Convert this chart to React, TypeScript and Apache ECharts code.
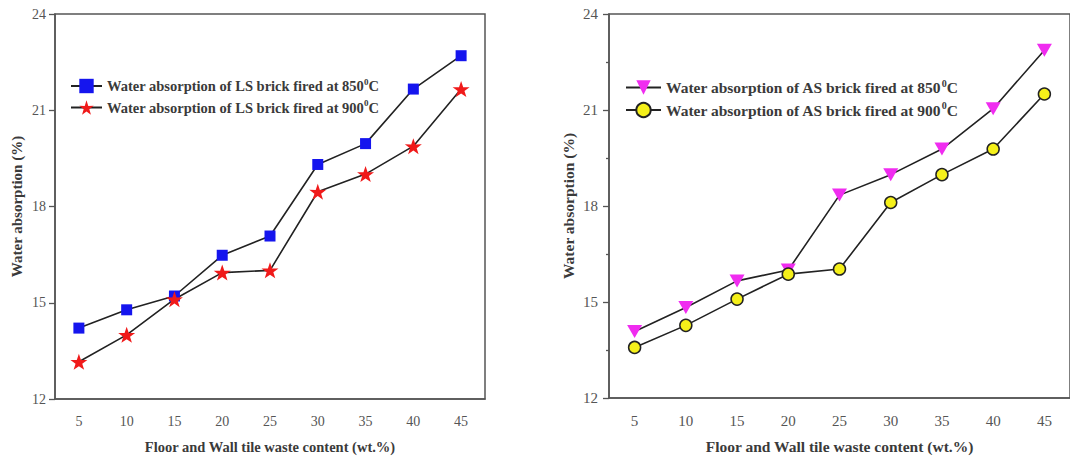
import React, { useEffect, useRef } from "react";
import * as echarts from "echarts";

const xLabels = ["5", "10", "15", "20", "25", "30", "35", "40", "45"];
const lsBrick850 = [14.21, 14.78, 15.21, 16.48, 17.08, 19.31, 19.96, 21.66, 22.7];
const lsBrick900 = [13.16, 14.0, 15.11, 15.94, 16.01, 18.46, 19.01, 19.88, 21.66];
const asBrick850 = [14.08, 14.83, 15.66, 16.0, 18.34, 18.98, 19.78, 21.04, 22.87];
const asBrick900 = [13.58, 14.27, 15.09, 15.87, 16.03, 18.11, 18.98, 19.78, 21.5];

const names = {
  ls850: "Water absorption of LS brick fired at 850°C",
  ls900: "Water absorption of LS brick fired at 900°C",
  as850: "Water absorption of AS brick fired at 850°C",
  as900: "Water absorption of AS brick fired at 900°C",
};

const yAxisName = "Water absorption (%)";
const xAxisName = "Floor and Wall tile waste content (wt.%)";

const FONT = "'Liberation Serif', 'Times New Roman', serif";
const STAR =
  "path://M50,0 L61.8,35.1 L97.6,34.5 L68.8,56.7 L79.4,90.5 L50,70 L20.6,90.5 L31.2,56.7 L2.4,34.5 L38.2,35.1 Z";

function legendRich(size: number) {
  return {
    t: { fontFamily: FONT, fontWeight: "bold", fontSize: size, color: "#3a3a3a" },
    sup: {
      fontFamily: FONT,
      fontWeight: "bold",
      fontSize: Math.round(size * 0.62),
      color: "#3a3a3a",
      padding: [0, 0, Math.round(size * 0.6), 0],
    },
  };
}

function legendFormatter(name: string) {
  const i = name.indexOf("°C");
  return "{t|" + name.slice(0, i) + "}{sup|0}{t|C}";
}

function makeXAxis(gridIndex: number, size: number, nameSize: number, gap: number, margin: number) {
  return {
    type: "category",
    gridIndex,
    data: xLabels,
    boundaryGap: true,
    name: xAxisName,
    nameLocation: "middle",
    nameGap: gap,
    nameTextStyle: { fontFamily: FONT, fontWeight: "bold", fontSize: nameSize, color: "#3a3a3a" },
    axisLine: { lineStyle: { color: "#555", width: 1.5 } },
    axisTick: { alignWithLabel: true, length: 6, lineStyle: { color: "#555", width: 1.3 } },
    axisLabel: { fontFamily: FONT, fontSize: size, color: "#555", margin },
    splitLine: { show: false },
  };
}

function makeYAxis(gridIndex: number, size: number, nameSize: number, gap: number, margin: number, minor: boolean) {
  return {
    type: "value",
    gridIndex,
    min: 12,
    max: 24,
    interval: 3,
    name: yAxisName,
    nameLocation: "middle",
    nameGap: gap,
    nameTextStyle: { fontFamily: FONT, fontWeight: "bold", fontSize: nameSize, color: "#3a3a3a" },
    axisLine: { show: true, lineStyle: { color: "#555", width: 1.5 } },
    axisTick: { show: true, length: 6, lineStyle: { color: "#555", width: 1.3 } },
    minorTick: { show: minor, splitNumber: 2, length: 3, lineStyle: { color: "#555", width: 1.3 } },
    axisLabel: { fontFamily: FONT, fontSize: size, color: "#555", margin },
    splitLine: { show: false },
    minorSplitLine: { show: false },
  };
}

const lineStyle = { color: "#222", width: 1.6 };

export default function App() {
  const ref = useRef<HTMLDivElement>(null);
  useEffect(() => {
    if (!ref.current) return;
    const chart = echarts.init(ref.current, null, { renderer: "svg" });
    chart.setOption({
      animation: false,
      backgroundColor: "#fff",
      grid: [
        { left: 55, top: 14, width: 430, height: 386, show: true, borderColor: "#555", borderWidth: 1.5, backgroundColor: "transparent" },
        { left: 609, top: 14, width: 465, height: 387.5, show: true, borderColor: "#555", borderWidth: 1.5, backgroundColor: "transparent" },
      ],
      legend: [
        {
          orient: "vertical",
          left: 70,
          top: 77,
          padding: 0,
          itemWidth: 31,
          itemHeight: 18,
          itemGap: 5,
          data: [names.ls850, names.ls900],
          formatter: legendFormatter,
          textStyle: { rich: legendRich(14.5) },
        },
        {
          orient: "vertical",
          left: 625,
          top: 78,
          padding: 0,
          itemWidth: 35,
          itemHeight: 18,
          itemGap: 5,
          data: [names.as850, names.as900],
          formatter: legendFormatter,
          textStyle: { rich: legendRich(15.5) },
        },
      ],
      xAxis: [makeXAxis(0, 14, 14.5, 40, 15), makeXAxis(1, 15, 15.5, 40, 15)],
      yAxis: [makeYAxis(0, 14, 15, 31, 9, false), makeYAxis(1, 15, 15.5, 33, 11, true)],
      series: [
        {
          name: names.ls850,
          type: "line",
          xAxisIndex: 0,
          yAxisIndex: 0,
          data: lsBrick850,
          symbol: "rect",
          symbolSize: 11,
          itemStyle: { color: "#1515ee", borderColor: "#1515ee", borderWidth: 0 },
          lineStyle,
        },
        {
          name: names.ls900,
          type: "line",
          xAxisIndex: 0,
          yAxisIndex: 0,
          data: lsBrick900,
          symbol: STAR,
          symbolSize: [17, 16],
          itemStyle: { color: "#f01a1a", borderWidth: 0 },
          lineStyle,
        },
        {
          name: names.as850,
          type: "line",
          xAxisIndex: 1,
          yAxisIndex: 1,
          data: asBrick850,
          symbol: "triangle",
          symbolRotate: 180,
          symbolSize: [15, 13],
          itemStyle: { color: "#f02cf0", borderWidth: 0 },
          lineStyle,
        },
        {
          name: names.as900,
          type: "line",
          xAxisIndex: 1,
          yAxisIndex: 1,
          data: asBrick900,
          symbol: "circle",
          symbolSize: 12,
          itemStyle: { color: "#f5f01a", borderColor: "#222", borderWidth: 1.5 },
          lineStyle,
        },
      ],
    });
    return () => chart.dispose();
  }, []);
  return (
    <div
      ref={ref}
      style={{ position: "fixed", left: 0, top: 0, width: 1070, height: 459, background: "#fff" }}
    />
  );
}
